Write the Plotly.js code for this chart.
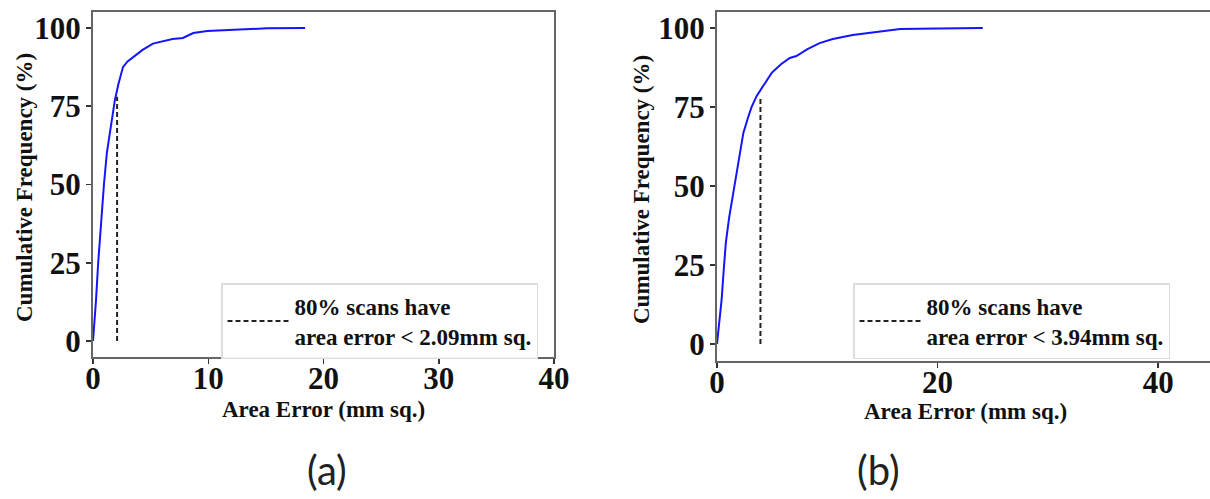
<!DOCTYPE html>
<html>
<head>
<meta charset="utf-8">
<script src="https://cdn.plot.ly/plotly-3.0.1.min.js"></script>
<style>html,body{margin:0;padding:0;background:#fff;}#chart{width:1210px;height:499px;}</style>
</head>
<body>
<div id="chart"></div>
<script>
// Panel (a) cumulative curve
const errA = [0, 0.1, 0.26, 0.45, 0.7, 0.95, 1.2, 1.5, 1.9, 2.2, 2.6, 3.0, 3.5, 4.3, 5.2, 6.0, 6.9, 7.8, 8.7, 9.9, 12.1, 15.1, 18.4];
const freqA = [0, 4, 13, 25, 38, 50, 60, 68, 77, 82, 87.5, 89.3, 90.7, 93, 95, 95.8, 96.5, 96.8, 98.4, 99, 99.4, 99.9, 100];
// Panel (b) cumulative curve
const errB = [0, 0.2, 0.42, 0.6, 0.8, 1.1, 1.48, 1.9, 2.39, 2.8, 3.14, 3.6, 4.05, 4.96, 5.8, 6.6, 7.2, 8.2, 9.3, 10.5, 12.3, 13.6, 15.1, 16.6, 20, 24.1];
const freqB = [0, 7, 14, 23, 32, 40, 47.8, 57, 66.8, 71.5, 75, 78.5, 81, 85.8, 88.5, 90.5, 91.1, 93.3, 95.2, 96.5, 97.8, 98.4, 99, 99.7, 99.8, 100];
// 80% thresholds
const thresholdA = 2.09;
const thresholdB = 3.94;
const dashTop = [0, 78];
const legendA = "80% scans have<br>area error < 2.09mm sq.";
const legendB = "80% scans have<br>area error < 3.94mm sq.";
const xTicksA = [0, 10, 20, 30, 40];
const xTicksB = [0, 20, 40];
const yTicks = [0, 25, 50, 75, 100];
const xTitle = "Area Error (mm sq.)";
const yTitle = "Cumulative Frequency (%)";
const panelLabels = ["(a)", "(b)"];

const serif = "Liberation Serif, Times New Roman, serif";
const W = 1210, H = 499;
const tickFont = {family: serif, size: 31, color: "#111", weight: "bold"};
const titleFont = {family: serif, size: 23, color: "#111", weight: "bold"};

const traces = [
  {x: errA, y: freqA, type: "scatter", mode: "lines", line: {color: "#1414ff", width: 2}, xaxis: "x", yaxis: "y", showlegend: false, hoverinfo: "skip"},
  {x: [thresholdA, thresholdA], y: dashTop, type: "scatter", mode: "lines", line: {color: "#222", width: 2, dash: "5px,3px"}, xaxis: "x", yaxis: "y", name: legendA, legend: "legend", showlegend: true},
  {x: errB, y: freqB, type: "scatter", mode: "lines", line: {color: "#1414ff", width: 2}, xaxis: "x2", yaxis: "y2", showlegend: false, hoverinfo: "skip"},
  {x: [thresholdB, thresholdB], y: dashTop, type: "scatter", mode: "lines", line: {color: "#222", width: 2, dash: "5px,3px"}, xaxis: "x2", yaxis: "y2", name: legendB, legend: "legend2", showlegend: true}
];

const axBase = {showgrid: false, zeroline: false, showline: true, linecolor: "#666", linewidth: 2,
  ticks: "outside", ticklen: 5, tickwidth: 1.5, tickcolor: "#333", tickfont: tickFont, automargin: false, fixedrange: true};
const xBase = Object.assign({}, axBase, {ticklabelstandoff: -12});
const yBase = Object.assign({}, axBase, {ticklabelstandoff: -1});

const legStyle = {font: {family: serif, size: 23, color: "#111", weight: "bold"}, bgcolor: "rgba(255,255,255,0.9)",
  bordercolor: "#ddd", borderwidth: 1.5, xanchor: "left", yanchor: "top", tracegroupgap: 0, itemwidth: 62};

const layout = {
  width: W, height: H,
  margin: {l: 0, r: 0, t: 0, b: 0},
  paper_bgcolor: "#fff", plot_bgcolor: "#fff",
  xaxis: Object.assign({}, xBase, {domain: [93/W, 554/W], range: [0, 40], tickvals: xTicksA, mirror: true, anchor: "y"}),
  yaxis: Object.assign({}, yBase, {domain: [(H-357)/H, (H-12)/H], range: [-5.1, 105.1], tickvals: yTicks, mirror: true, anchor: "x"}),
  xaxis2: Object.assign({}, xBase, {domain: [717/W, 1], range: [0, (W-717)/11.03], tickvals: xTicksB, mirror: true, anchor: "y2"}),
  yaxis2: Object.assign({}, yBase, {domain: [(H-361)/H, (H-12)/H], range: [-5.4, 105.05], tickvals: yTicks, mirror: false, anchor: "x2"}),
  legend: Object.assign({}, legStyle, {x: 221/W, y: (H-283)/H}),
  legend2: Object.assign({}, legStyle, {x: 853/W, y: (H-283)/H}),
  annotations: [
    {text: xTitle, xref: "paper", yref: "paper", x: 323/W, y: (H-410)/H, showarrow: false, font: titleFont, xanchor: "center", yanchor: "middle"},
    {text: yTitle, xref: "paper", yref: "paper", x: 24/W, y: (H-188)/H, showarrow: false, font: titleFont, textangle: -90, xanchor: "center", yanchor: "middle"},
    {text: xTitle, xref: "paper", yref: "paper", x: 965/W, y: (H-412)/H, showarrow: false, font: titleFont, xanchor: "center", yanchor: "middle"},
    {text: yTitle, xref: "paper", yref: "paper", x: 641/W, y: (H-190)/H, showarrow: false, font: titleFont, textangle: -90, xanchor: "center", yanchor: "middle"},
    {text: panelLabels[0], xref: "paper", yref: "paper", x: 327/W, y: (H-470)/H, showarrow: false, font: {family: "Lato, Noto Sans, sans-serif", size: 40, color: "#222"}, xanchor: "center", yanchor: "middle"},
    {text: panelLabels[1], xref: "paper", yref: "paper", x: 878/W, y: (H-470)/H, showarrow: false, font: {family: "Lato, Noto Sans, sans-serif", size: 40, color: "#222"}, xanchor: "center", yanchor: "middle"}
  ]
};

Plotly.newPlot("chart", traces, layout, {displayModeBar: false, staticPlot: true});
</script>
</body>
</html>
